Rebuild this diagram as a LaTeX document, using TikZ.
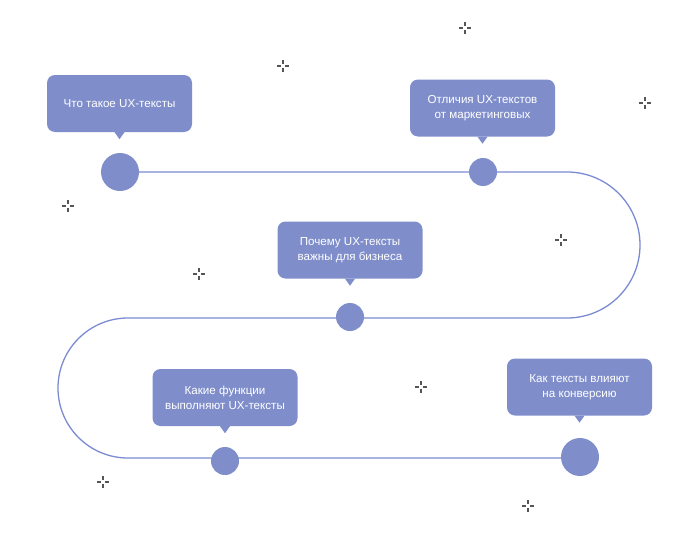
\documentclass[tikz,border=0pt]{standalone}
\usepackage{fontspec}
\setmainfont{Liberation Sans}
\begin{document}
\begin{tikzpicture}[x=1pt,y=-1pt,
  track/.style={draw=trackblue,line width=1.3pt},
  stop/.style={circle,fill=dotblue,inner sep=0pt},
  bubble/.style={fill=dotblue,rounded corners=8pt,minimum width=145pt,minimum height=57pt,
    align=center,text=white,font=\fontsize{11.6}{15}\selectfont,inner sep=2pt},
  spark/.style={draw=sparkgray,line width=1.1pt}]
\definecolor{dotblue}{HTML}{7F8ECB}
\definecolor{trackblue}{HTML}{7B8BD2}
\definecolor{sparkgray}{HTML}{555555}
\useasboundingbox[fill=white] (0,0) rectangle (700,535);

% route
\coordinate (tr1) at (567,172);
\coordinate (tl1) at (128,318);
\draw[track] (120,172) -- (tr1) arc[start angle=-90,end angle=90,radius=73] -- (tl1)
  arc[start angle=-90,end angle=-270,radius=70] -- (580,458);

% stops
\node[stop,minimum size=38pt] (s1) at (120,172) {};
\node[stop,minimum size=28pt] (s2) at (483,172) {};
\node[stop,minimum size=28pt] (s3) at (350,317) {};
\node[stop,minimum size=28pt] (s4) at (225,461) {};
\node[stop,minimum size=38pt] (s5) at (580,457) {};

% callouts
\node[bubble] (b1) at (119.5,103.5) {Что такое UX-тексты};
\node[bubble] (b2) at (482.5,108) {Отличия UX-текстов\\от маркетинговых};
\node[bubble] (b3) at (350,250) {Почему UX-тексты\\важны для бизнеса};
\node[bubble] (b4) at (225,397.5) {Какие функции\\выполняют UX-тексты};
\node[bubble] (b5) at (579.5,387) {Как тексты влияют\\на конверсию};
\foreach \b in {b1,b2,b3,b4,b5}
  \fill[dotblue] ([xshift=-5pt]\b.south) -- ([xshift=5pt]\b.south) -- ([yshift=-7pt]\b.south) -- cycle;

% sparkles
\foreach \sx/\sy in {465/28,283/66,645/103,68/206,561/240,199/274,421/387,103/482,528/506}{
  \draw[spark] (\sx-6,\sy) -- (\sx-2,\sy) (\sx+2,\sy) -- (\sx+6,\sy)
    (\sx,\sy-6) -- (\sx,\sy-2) (\sx,\sy+2) -- (\sx,\sy+6);}
\end{tikzpicture}
\end{document}
